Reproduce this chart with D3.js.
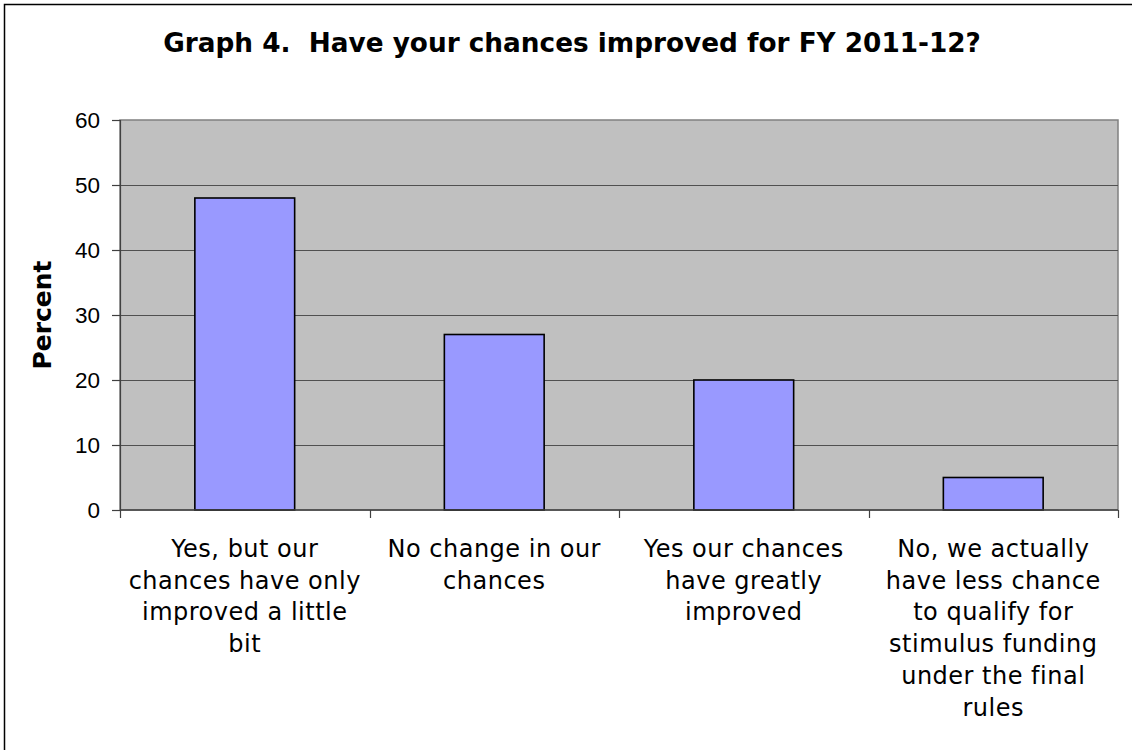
<!DOCTYPE html>
<html>
<head>
<meta charset="utf-8">
<script src="https://cdn.jsdelivr.net/npm/d3@7"></script>
<style>
  html, body { margin: 0; padding: 0; background: #ffffff; }
  svg { display: block; }
  .title { white-space: pre; }
</style>
</head>
<body>
<svg id="chart" width="1132" height="750"></svg>
<script>
// Survey responses: share of respondents per answer
const categories = [
  "Yes, but our chances have only improved a little bit",
  "No change in our chances",
  "Yes our chances have greatly improved",
  "No, we actually have less chance to qualify for stimulus funding under the final rules"
];
// Wrapped lines used for the category axis labels
const categoryLines = [
  ["Yes, but our", "chances have only", "improved a little", "bit"],
  ["No change in our", "chances"],
  ["Yes our chances", "have greatly", "improved"],
  ["No, we actually", "have less chance", "to qualify for", "stimulus funding", "under the final", "rules"]
];
const percentValues = [48, 27, 20, 5];
const yTicks = [0, 10, 20, 30, 40, 50, 60];
const titleText = "Graph 4.  Have your chances improved for FY 2011-12?";
const yAxisTitle = "Percent";

const svg = d3.select("#chart");

// Outer chart frame
svg.append("rect")
  .attr("x", 4.5).attr("y", 4.5)
  .attr("width", 1140).attr("height", 760)
  .attr("fill", "#ffffff")
  .attr("stroke", "#000000")
  .attr("stroke-width", 1.5);

const plot = { left: 120, top: 120, right: 1118, bottom: 510 };

const x = d3.scaleBand()
  .domain(categories)
  .range([plot.left, plot.right])
  .paddingInner(0.6)
  .paddingOuter(0.3);

const y = d3.scaleLinear()
  .domain([0, 60])
  .range([plot.bottom, plot.top]);

// Plot background
svg.append("rect")
  .attr("x", plot.left).attr("y", plot.top)
  .attr("width", plot.right - plot.left)
  .attr("height", plot.bottom - plot.top)
  .attr("fill", "#c0c0c0")
  .attr("stroke", "#808080")
  .attr("stroke-width", 1.5);

// Horizontal gridlines
svg.append("g")
  .selectAll("line")
  .data(yTicks.filter(t => t > 0 && t < 60))
  .join("line")
  .attr("x1", plot.left).attr("x2", plot.right)
  .attr("y1", d => Math.round(y(d)) + 0.5)
  .attr("y2", d => Math.round(y(d)) + 0.5)
  .attr("stroke", "#505050")
  .attr("stroke-width", 1.2);

// Bars
svg.append("g")
  .selectAll("rect")
  .data(percentValues)
  .join("rect")
  .attr("x", (d, i) => x(categories[i]))
  .attr("y", d => y(d))
  .attr("width", x.bandwidth())
  .attr("height", d => y(0) - y(d))
  .attr("fill", "#9999ff")
  .attr("stroke", "#000000")
  .attr("stroke-width", 1.6);

// Y axis
const yAxis = d3.axisLeft(y)
  .tickValues(yTicks)
  .tickSize(8)
  .tickPadding(12)
  .tickFormat(d3.format("d"));

const yg = svg.append("g")
  .attr("transform", `translate(${plot.left},0)`)
  .call(yAxis);
yg.select(".domain").attr("stroke", "#404040").attr("stroke-width", 1.2);
yg.selectAll(".tick line").attr("stroke", "#404040").attr("stroke-width", 1.2);
yg.selectAll(".tick text")
  .attr("font-family", "'Liberation Sans', Arial, sans-serif")
  .attr("font-size", 22.5)
  .attr("fill", "#000000");

// X axis: ticks on category boundaries
const boundaries = categories.map(c => x(c) - (x.step() - x.bandwidth()) / 2);
boundaries.push(plot.right);
const xg = svg.append("g");
xg.append("line")
  .attr("x1", plot.left).attr("x2", plot.right)
  .attr("y1", plot.bottom).attr("y2", plot.bottom)
  .attr("stroke", "#404040").attr("stroke-width", 1.5);
xg.selectAll("line.tick")
  .data(boundaries)
  .join("line")
  .attr("class", "tick")
  .attr("x1", d => Math.round(d) + 0.5).attr("x2", d => Math.round(d) + 0.5)
  .attr("y1", plot.bottom).attr("y2", plot.bottom + 8)
  .attr("stroke", "#404040").attr("stroke-width", 1.2);

// Category labels
const labelGroup = svg.append("g")
  .attr("font-family", "'DejaVu Sans', Verdana, sans-serif")
  .attr("font-size", 24)
  .attr("letter-spacing", "0.5px")
  .attr("fill", "#000000")
  .attr("text-anchor", "middle");

categoryLines.forEach((lines, i) => {
  const cx = x(categories[i]) + x.bandwidth() / 2;
  const t = labelGroup.append("text")
    .attr("x", cx)
    .attr("y", 557);
  lines.forEach((line, j) => {
    t.append("tspan")
      .attr("x", cx)
      .attr("y", 557 + j * 31.7)
      .text(line);
  });
});

// Y axis title
svg.append("text")
  .attr("transform", `translate(51, ${(plot.top + plot.bottom) / 2}) rotate(-90)`)
  .attr("text-anchor", "middle")
  .attr("font-family", "'DejaVu Sans', Verdana, sans-serif")
  .attr("font-weight", "bold")
  .attr("font-size", 25)
  .attr("fill", "#000000")
  .text(yAxisTitle);

// Chart title
svg.append("text")
  .attr("class", "title")
  .attr("x", 572)
  .attr("y", 52)
  .attr("text-anchor", "middle")
  .attr("font-family", "'DejaVu Sans', Verdana, sans-serif")
  .attr("font-weight", "bold")
  .attr("font-size", 26.3)
  .attr("fill", "#000000")
  .text(titleText);
</script>
</body>
</html>
